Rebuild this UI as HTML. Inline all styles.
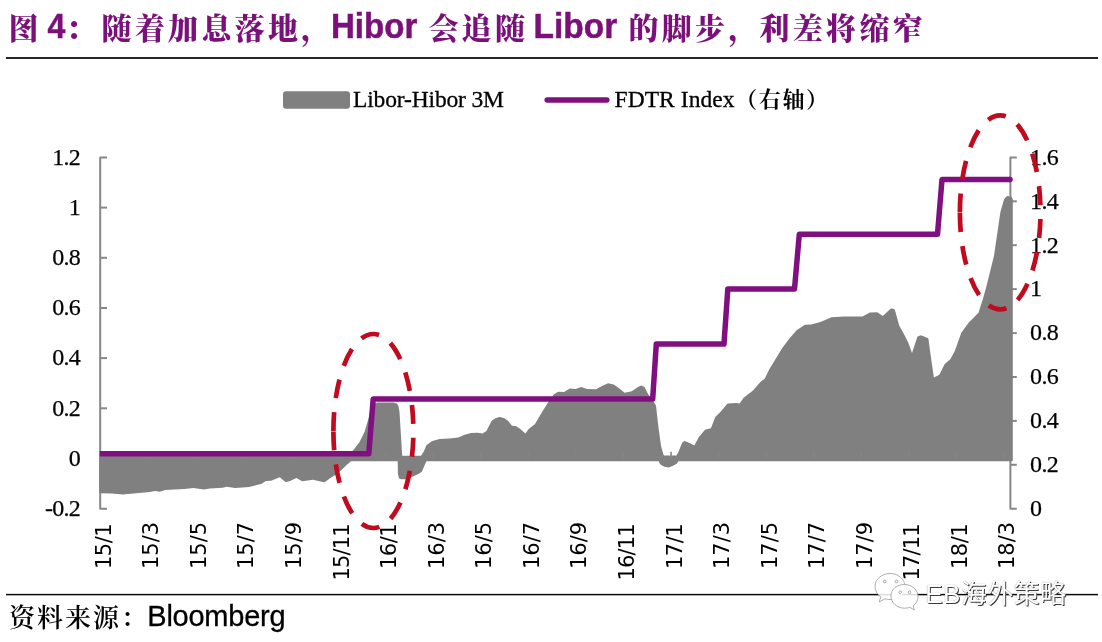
<!DOCTYPE html>
<html lang="zh-CN">
<head>
<meta charset="utf-8">
<title>图 4：随着加息落地，Hibor 会追随 Libor 的脚步，利差将缩窄</title>
<style>
html,body{margin:0;padding:0;background:#fff;}
body{width:1102px;height:642px;overflow:hidden;}
svg{display:block;}
</style>
</head>
<body>
<svg width="1102" height="642" viewBox="0 0 1102 642">
<rect width="1102" height="642" fill="#ffffff"/>
<rect x="6" y="57" width="1092" height="2" fill="#262626"/>
<rect x="6" y="593.85" width="1092" height="1.5" fill="#0a0a0a"/>
<g stroke="#878787" stroke-width="2" fill="none" stroke-linejoin="round" stroke-linecap="butt">
<path d="M107,157.4 H100.2 V508.7 H107"/>
<path d="M100.2,207.6 H107"/>
<path d="M100.2,257.8 H107"/>
<path d="M100.2,308.0 H107"/>
<path d="M100.2,358.1 H107"/>
<path d="M100.2,408.3 H107"/>
<path d="M100.2,458.5 H107"/>
<path d="M1016.8,157.4 H1010.4 V508.7 H1016.8"/>
<path d="M1010.4,201.3 H1016.8"/>
<path d="M1010.4,245.2 H1016.8"/>
<path d="M1010.4,289.1 H1016.8"/>
<path d="M1010.4,333.1 H1016.8"/>
<path d="M1010.4,377.0 H1016.8"/>
<path d="M1010.4,420.9 H1016.8"/>
<path d="M1010.4,464.8 H1016.8"/>
</g>
<path d="M100.5,455.8 L100.0,455.9 L99.6,456.2 L99.3,456.6 L99.2,457.1 L99.2,491.9 L99.3,492.4 L99.6,492.8 L100.0,493.1 L100.5,493.2 L111.6,493.5 L123.0,494.5 L149.8,492.0 L155.0,491.0 L159.8,491.7 L160.4,491.6 L165.3,490.0 L184.4,489.0 L193.4,488.1 L203.8,489.4 L210.0,488.5 L222.6,487.7 L226.6,486.8 L235.1,488.1 L249.1,487.1 L261.7,483.7 L265.8,481.1 L271.1,480.7 L279.8,477.3 L285.1,481.7 L285.6,482.0 L286.2,482.0 L290.1,481.0 L296.4,477.9 L302.2,481.2 L313.0,479.8 L323.9,482.3 L324.5,482.3 L325.0,482.0 L330.0,478.3 L336.1,474.5 L341.5,470.0 L346.6,465.1 L351.0,461.3 L397.7,461.3 L397.9,473.9 L399.0,478.2 L399.7,478.7 L401.2,479.2 L406.3,479.2 L406.8,479.1 L412.0,477.0 L419.3,473.5 L421.7,471.7 L422.1,471.2 L425.8,462.6 L426.5,461.3 L658.5,461.3 L660.2,464.2 L660.7,464.7 L664.5,466.7 L668.7,467.6 L673.1,465.8 L676.7,463.7 L677.2,463.2 L678.3,461.3 L1011.5,461.3 L1012.0,461.2 L1012.4,460.9 L1012.7,460.5 L1012.8,460.0 L1012.8,199.3 L1012.6,198.7 L1011.6,197.0 L1011.2,196.5 L1010.6,196.4 L1007.4,196.1 L1006.9,196.2 L1006.4,196.6 L1004.3,199.0 L1004.0,199.5 L1000.4,212.0 L994.0,255.7 L986.5,286.0 L983.1,298.2 L978.5,312.8 L968.6,322.7 L961.3,332.7 L954.8,351.1 L950.3,359.3 L945.0,363.7 L944.7,364.1 L939.3,374.8 L933.9,377.5 L931.1,358.4 L928.4,338.6 L927.7,338.0 L921.6,335.4 L921.1,335.3 L918.1,336.3 L917.6,336.6 L917.3,337.1 L912.0,352.9 L908.3,342.8 L904.7,335.6 L899.2,325.6 L894.9,309.9 L894.7,309.5 L894.4,309.2 L894.0,309.0 L891.7,308.5 L890.8,308.5 L882.8,316.1 L877.3,312.3 L870.4,312.5 L869.8,312.6 L862.5,316.4 L844.1,316.4 L831.5,317.3 L820.4,321.9 L811.3,324.6 L804.9,324.7 L796.6,330.2 L789.4,338.4 L782.1,348.3 L774.8,360.2 L769.3,369.3 L764.8,378.4 L759.9,382.6 L753.0,390.5 L743.6,397.8 L739.6,403.6 L736.3,403.0 L728.1,403.5 L727.6,403.6 L727.1,403.9 L721.1,411.3 L715.5,416.8 L715.2,417.3 L710.9,428.3 L705.6,429.4 L704.8,429.9 L698.9,437.1 L694.3,445.5 L690.0,443.2 L685.4,441.2 L684.9,441.1 L684.1,441.3 L682.4,442.6 L682.0,443.1 L678.3,452.3 L676.4,455.6 L664.0,455.6 L663.6,455.0 L661.1,446.2 L658.6,428.5 L656.0,405.8 L655.8,405.3 L652.0,399.1 L648.4,394.7 L644.5,387.0 L641.9,385.7 L641.3,385.6 L640.7,385.7 L638.0,387.0 L631.7,391.2 L624.7,392.8 L619.0,388.3 L614.1,384.7 L613.6,384.4 L608.1,383.3 L602.5,385.7 L596.0,389.2 L587.0,388.9 L581.3,387.1 L575.5,388.9 L569.8,388.4 L564.0,392.1 L558.4,391.8 L557.7,392.0 L554.4,393.9 L553.9,394.2 L547.7,403.0 L541.3,413.2 L535.0,424.1 L528.7,429.1 L525.4,433.6 L519.7,428.6 L516.1,426.2 L515.5,426.0 L512.0,425.7 L508.2,421.0 L504.5,418.2 L500.2,416.9 L499.4,416.9 L495.2,418.2 L491.8,420.7 L491.4,421.2 L486.4,431.1 L482.6,433.6 L477.4,432.8 L471.0,433.0 L464.6,434.7 L458.3,437.5 L449.4,438.5 L439.4,439.0 L431.7,441.2 L426.7,444.9 L426.3,445.4 L423.8,451.5 L421.0,455.8 L402.2,455.8 L399.5,411.9 L398.5,406.3 L398.3,405.8 L396.8,403.6 L393.8,402.5 L377.5,402.5 L374.0,403.4 L373.6,403.6 L373.2,403.9 L370.9,407.9 L368.3,419.2 L364.5,431.9 L359.4,442.2 L349.0,455.8Z" fill="#808080"/>
<g stroke="#878787" stroke-width="1.6" fill="none">
<path d="M147.9,458.5 V451.8" opacity="0.5"/>
<path d="M195.4,458.5 V451.8" opacity="0.5"/>
<path d="M243.0,458.5 V451.8" opacity="0.5"/>
<path d="M290.6,458.5 V451.8" opacity="0.5"/>
<path d="M338.1,458.5 V451.8" opacity="0.5"/>
<path d="M385.7,458.5 V451.8" opacity="0.5"/>
<path d="M433.3,458.5 V451.8" opacity="0.5"/>
<path d="M480.8,458.5 V451.8" opacity="0.5"/>
<path d="M528.4,458.5 V451.8" opacity="0.5"/>
<path d="M575.9,458.5 V451.8" opacity="0.5"/>
<path d="M623.5,458.5 V451.8" opacity="0.5"/>
<path d="M671.1,458.5 V451.8"/>
<path d="M718.6,458.5 V451.8" opacity="0.5"/>
<path d="M766.2,458.5 V451.8" opacity="0.5"/>
<path d="M813.8,458.5 V451.8" opacity="0.5"/>
<path d="M861.3,458.5 V451.8" opacity="0.5"/>
<path d="M908.9,458.5 V451.8" opacity="0.5"/>
<path d="M956.5,458.5 V451.8" opacity="0.5"/>
<path d="M1004.0,458.5 V451.8" opacity="0.5"/>
</g>
<polyline points="99.7,453.8 368.8,453.8 373.2,398.9 652.7,398.9 656.3,344.0 724.0,344.0 727.8,289.1 794.5,289.1 799.3,234.2 937.5,234.2 942.0,179.4 1010.5,179.4" fill="none" stroke="#800f80" stroke-width="5.5" stroke-linejoin="round" stroke-linecap="butt"/>
<circle cx="1010" cy="179.4" r="2.75" fill="#800f80"/>
<rect x="283" y="91.3" width="67" height="17.5" rx="3" ry="3" fill="#808080"/>
<line x1="547.2" y1="100" x2="606.8" y2="100" stroke="#800f80" stroke-width="5.5" stroke-linecap="round"/>
<g font-family="'Liberation Serif', 'Noto Serif CJK SC', serif" font-size="23.5" fill="#000">
<text x="353" y="107" textLength="151" lengthAdjust="spacing" stroke="#000" stroke-width="0.3">Libor-Hibor 3M</text>
<text x="614.5" y="107" textLength="120" lengthAdjust="spacing" stroke="#000" stroke-width="0.3">FDTR Index</text>
<text x="735.2" y="107" font-size="22" font-weight="700" letter-spacing="1.6">（右轴）</text>
</g>
<g font-family="'Liberation Serif', serif" font-size="24" letter-spacing="-0.7" fill="#000" stroke="#000" stroke-width="0.25">
<text x="80.1" y="164.7" text-anchor="end">1.2</text>
<text x="80.1" y="214.9" text-anchor="end">1</text>
<text x="80.1" y="265.1" text-anchor="end">0.8</text>
<text x="80.1" y="315.3" text-anchor="end">0.6</text>
<text x="80.1" y="365.4" text-anchor="end">0.4</text>
<text x="80.1" y="415.6" text-anchor="end">0.2</text>
<text x="80.1" y="465.8" text-anchor="end">0</text>
<text x="80.1" y="516.0" text-anchor="end">-0.2</text>
<text x="1030.1" y="164.7">1.6</text>
<text x="1030.1" y="208.6">1.4</text>
<text x="1030.1" y="252.5">1.2</text>
<text x="1030.1" y="296.4">1</text>
<text x="1030.1" y="340.4">0.8</text>
<text x="1030.1" y="384.3">0.6</text>
<text x="1030.1" y="428.2">0.4</text>
<text x="1030.1" y="472.1">0.2</text>
<text x="1030.1" y="516.0">0</text>
</g>
<g font-family="'DejaVu Sans', 'Liberation Sans', sans-serif" font-size="21" fill="#000">
<text transform="translate(110.7,523.4) rotate(-90)" text-anchor="end" textLength="45.6" lengthAdjust="spacing">15/1</text>
<text transform="translate(158.3,521.9) rotate(-90)" text-anchor="end">15/3</text>
<text transform="translate(205.8,521.9) rotate(-90)" text-anchor="end">15/5</text>
<text transform="translate(253.4,521.9) rotate(-90)" text-anchor="end">15/7</text>
<text transform="translate(301.0,521.9) rotate(-90)" text-anchor="end">15/9</text>
<text transform="translate(348.5,523.4) rotate(-90)" text-anchor="end" textLength="57.1" lengthAdjust="spacing">15/11</text>
<text transform="translate(396.1,523.4) rotate(-90)" text-anchor="end" textLength="45.6" lengthAdjust="spacing">16/1</text>
<text transform="translate(443.7,521.9) rotate(-90)" text-anchor="end">16/3</text>
<text transform="translate(491.2,521.9) rotate(-90)" text-anchor="end">16/5</text>
<text transform="translate(538.8,521.9) rotate(-90)" text-anchor="end">16/7</text>
<text transform="translate(586.4,521.9) rotate(-90)" text-anchor="end">16/9</text>
<text transform="translate(633.9,523.4) rotate(-90)" text-anchor="end" textLength="57.1" lengthAdjust="spacing">16/11</text>
<text transform="translate(681.5,523.4) rotate(-90)" text-anchor="end" textLength="45.6" lengthAdjust="spacing">17/1</text>
<text transform="translate(729.0,521.9) rotate(-90)" text-anchor="end">17/3</text>
<text transform="translate(776.6,521.9) rotate(-90)" text-anchor="end">17/5</text>
<text transform="translate(824.2,521.9) rotate(-90)" text-anchor="end">17/7</text>
<text transform="translate(871.7,521.9) rotate(-90)" text-anchor="end">17/9</text>
<text transform="translate(919.3,523.4) rotate(-90)" text-anchor="end" textLength="57.1" lengthAdjust="spacing">17/11</text>
<text transform="translate(966.9,523.4) rotate(-90)" text-anchor="end" textLength="45.6" lengthAdjust="spacing">18/1</text>
<text transform="translate(1014.4,521.9) rotate(-90)" text-anchor="end">18/3</text>
</g>
<path d="M333.4,431 A40,97 0 0 1 413.4,431 A40,97 0 0 1 333.4,431" fill="none" stroke="#c00a1e" stroke-width="4.7" stroke-dasharray="18.87 14.15"/>
<path d="M959.9000000000001,212.4 A40.3,97 0 0 1 1040.5,212.4 A40.3,97 0 0 1 959.9000000000001,212.4" fill="none" stroke="#c00a1e" stroke-width="4.7" stroke-dasharray="18.9 14.15"/>
<g fill="#7a1079" font-weight="bold">
<g font-family="'Liberation Sans', 'Noto Sans CJK SC', sans-serif" font-size="34.5" stroke="#7a1079" stroke-width="0.5">
<text x="47.6" y="38" textLength="17.8" lengthAdjust="spacingAndGlyphs">4</text>
<text x="330.9" y="38" textLength="86.4" lengthAdjust="spacingAndGlyphs">Hibor</text>
<text x="533.5" y="38" textLength="83.7" lengthAdjust="spacingAndGlyphs">Libor</text>
</g>
<g font-family="'Liberation Serif', 'Noto Serif CJK SC', serif" font-size="30" font-weight="900" letter-spacing="3.3">
<text x="8.5" y="39.3">图</text>
<text x="65.5" y="39.3">：</text>
<text x="101.5" y="39.3">随着加息落地，</text>
<text x="428.5" y="39.3">会追随</text>
<text x="628.5" y="39.3">的脚步，</text>
<text x="759.5" y="39.3">利差将缩窄</text>
</g>
</g>
<g fill="#000">
<text x="9" y="627" font-family="'Liberation Serif', 'Noto Serif CJK SC', serif" font-size="26" font-weight="600" letter-spacing="2">资料来源：</text>
<text x="147.3" y="625.5" font-family="'Liberation Sans', sans-serif" font-size="29" textLength="138.3" lengthAdjust="spacing" stroke="#000" stroke-width="0.3">Bloomberg</text>
</g>
<g>
<g fill="#ffffff" fill-opacity="0.86" stroke="#9a9a9a" stroke-width="0.8">
<path d="M890,573.5 c-8.3,0 -15,5.8 -15,13 c0,4.2 2.3,7.9 5.8,10.3 l-1.6,5.2 l5.6,-3.2 c1.6,0.5 3.4,0.7 5.2,0.7 c8.3,0 15,-5.8 15,-13 c0,-7.2 -6.700,-13 -15,-13 z"/>
<path d="M904.5,584.5 c7.5,0 13.5,5.400 13.5,12.2 c0,3.700 -1.900,7 -4.800,9.200 l1.200,4 l-4.600,-2.500 c-1.600,0.500 -3.400,0.800 -5.300,0.800 c-7.500,0 -13.500,-5.500 -13.500,-12.200 c0,-6.800 6,-11.500 13.500,-11.500 z"/>
<circle cx="884.8" cy="581.5" r="1.4"/><circle cx="896.5" cy="581.5" r="1.4"/><circle cx="900.2" cy="592.2" r="1.3"/><circle cx="909.5" cy="592.2" r="1.3"/>
</g>
<text x="925.3" y="603.2" font-family="'Liberation Sans', 'Noto Sans CJK SC', sans-serif" font-size="26" letter-spacing="0.4" fill="#ffffff" style="text-shadow:1px 1px 0 #3c3c3c, 0 0 1px #777">EB海外策略</text>
</g>
</svg>
</body>
</html>
